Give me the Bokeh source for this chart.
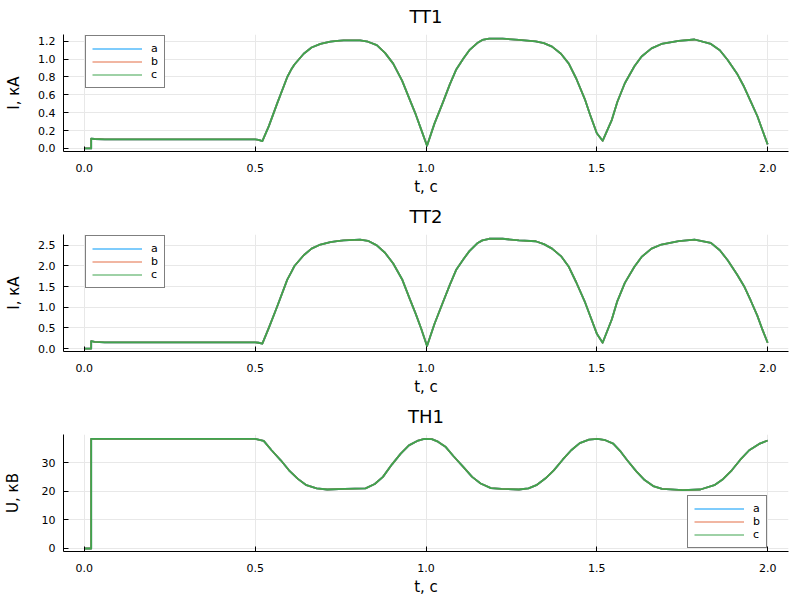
from bokeh.plotting import figure
from bokeh.models import Range1d, FixedTicker, NumeralTickFormatter, Legend, LegendItem
from bokeh.layouts import column
from bokeh.embed import file_html
from bokeh.resources import INLINE

# ---------------- data ----------------
phases = ["a", "b", "c"]
colors = ["#009AFA", "#E36F47", "#3EA44E"]

x_ticks = [0.0, 0.5, 1.0, 1.5, 2.0]
tt1_ticks = [0.0, 0.2, 0.4, 0.6, 0.8, 1.0, 1.2]
tt2_ticks = [0.0, 0.5, 1.0, 1.5, 2.0, 2.5]
th1_ticks = [0, 10, 20, 30]

# time points for current transformers (s)
t_i = [0, 0.02, 0.02, 0.03, 0.06, 0.50, 0.51, 0.521, 0.54, 0.565, 0.594, 0.605,
       0.615, 0.642, 0.665, 0.691, 0.72, 0.74, 0.759, 0.807, 0.83, 0.856, 0.88,
       0.904, 0.93, 0.953, 0.97, 0.986, 1.003, 1.025, 1.049, 1.07, 1.088, 1.11,
       1.127, 1.15, 1.165, 1.185, 1.224, 1.272, 1.321, 1.345, 1.369, 1.395, 1.418,
       1.44, 1.466, 1.48, 1.50, 1.517, 1.544, 1.56, 1.582, 1.61, 1.631, 1.66,
       1.689, 1.74, 1.786, 1.834, 1.86, 1.883, 1.91, 1.931, 1.95, 1.970, 1.985, 2.0]

# TT1 current, kA (phases a, b, c coincide)
tt1_a = [0, 0, 0.11, 0.105, 0.10, 0.10, 0.095, 0.081, 0.25, 0.51, 0.80, 0.88,
         0.94, 1.06, 1.13, 1.17, 1.195, 1.205, 1.21, 1.21, 1.195, 1.156, 1.07,
         0.95, 0.76, 0.54, 0.38, 0.21, 0.03, 0.28, 0.51, 0.72, 0.88, 1.01,
         1.10, 1.18, 1.215, 1.23, 1.23, 1.215, 1.20, 1.18, 1.14, 1.06, 0.95,
         0.78, 0.54, 0.38, 0.17, 0.085, 0.32, 0.52, 0.73, 0.92, 1.03, 1.12,
         1.17, 1.205, 1.22, 1.17, 1.10, 0.99, 0.84, 0.69, 0.53, 0.36, 0.2, 0.045]
tt1_b = list(tt1_a)
tt1_c = list(tt1_a)

# TT2 current, kA
tt2_a = [0, 0, 0.18, 0.16, 0.15, 0.15, 0.14, 0.12, 0.5, 1.03, 1.67, 1.84,
         2.0, 2.26, 2.42, 2.52, 2.58, 2.6, 2.62, 2.64, 2.61, 2.5, 2.32,
         2.06, 1.68, 1.19, 0.84, 0.48, 0.06, 0.6, 1.11, 1.55, 1.9, 2.17,
         2.36, 2.55, 2.62, 2.66, 2.66, 2.62, 2.6, 2.53, 2.42, 2.24, 1.98,
         1.6, 1.11, 0.8, 0.36, 0.14, 0.71, 1.15, 1.59, 1.98, 2.22, 2.42,
         2.52, 2.6, 2.64, 2.56, 2.38, 2.14, 1.8, 1.51, 1.17, 0.79, 0.45, 0.14]
tt2_b = list(tt2_a)
tt2_c = list(tt2_a)

# TH1 voltage, kV
t_u = [0, 0.02, 0.02, 0.5, 0.525, 0.548, 0.575, 0.599, 0.625, 0.65, 0.68, 0.711,
       0.762, 0.823, 0.85, 0.874, 0.90, 0.926, 0.95, 0.977, 0.995, 1.017, 1.035,
       1.058, 1.08, 1.109, 1.135, 1.16, 1.19, 1.221, 1.272, 1.30, 1.323, 1.35,
       1.374, 1.40, 1.425, 1.45, 1.477, 1.502, 1.525, 1.548, 1.57, 1.589, 1.615,
       1.64, 1.665, 1.691, 1.752, 1.803, 1.844, 1.87, 1.895, 1.92, 1.946, 1.975, 2.0]
th1_a = [0, 0, 38.3, 38.3, 37.6, 34.3, 30.8, 27.3, 24.3, 22.1, 21.0, 20.6,
         20.8, 21.0, 22.5, 25.0, 29.3, 33.1, 36.0, 37.7, 38.3, 38.2, 37.3,
         35.4, 32.3, 28.5, 25.0, 22.7, 21.1, 20.8, 20.6, 21.0, 22.1, 24.5,
         27.3, 31.0, 34.3, 36.8, 38.0, 38.3, 37.8, 36.6, 33.8, 30.8, 27.0,
         23.9, 21.8, 20.8, 20.4, 20.6, 22.1, 24.3, 27.3, 31.0, 34.3, 36.5, 37.7]
th1_b = list(th1_a)
th1_c = list(th1_a)

FONT = "DejaVu Sans"
W, H = 800, 200
LB, RB, TB, BB = 58, 12, 32, 49
FW, FH = W - LB - RB, H - TB - BB
LEG_W, LEG_H = 78, 52
NAN = float("nan")


def panel(title, t, series, y_range, y_ticks, y_fmt, y_label, legend_pos, y_label_standoff):
    p = figure(width=W, height=H, output_backend="svg", toolbar_location=None,
               x_range=Range1d(-0.061, 2.061), y_range=Range1d(*y_range),
               min_border_left=LB, min_border_right=RB, min_border_top=TB,
               min_border_bottom=BB, background_fill_color="white",
               border_fill_color="white", outline_line_color=None)
    p.title.text = title
    p.title.text_font = FONT
    p.title.text_font_size = "18px"
    p.title.text_font_style = "normal"
    p.title.align = "center"
    p.title.vertical_align = "top"
    p.title.text_color = "black"
    p.title.standoff = 11

    for ax, ticks, fmt, lab in ((p.xaxis[0], x_ticks, "0.0", "t, c"),
                                (p.yaxis[0], y_ticks, y_fmt, y_label)):
        ax.ticker = FixedTicker(ticks=ticks)
        ax.formatter = NumeralTickFormatter(format=fmt)
        ax.axis_label = lab
        ax.axis_label_text_font = FONT
        ax.axis_label_text_font_size = "15px"
        ax.axis_label_text_font_style = "normal"
        ax.axis_label_text_color = "black"
        ax.major_label_text_font = FONT
        ax.major_label_text_font_size = "11px"
        ax.major_label_text_color = "black"
        ax.major_tick_in = 5
        ax.major_tick_out = 0
        ax.minor_tick_in = 0
        ax.minor_tick_out = 0
        ax.major_label_standoff = 8
        ax.axis_line_color = "black"
        ax.major_tick_line_color = "black"
    p.xaxis[0].major_label_standoff = 12
    p.xaxis[0].axis_label_standoff = 3
    p.yaxis[0].axis_label_standoff = y_label_standoff

    for g in (p.xgrid[0], p.ygrid[0]):
        g.grid_line_color = "#e8e8e8"
        g.grid_line_width = 1
    p.xgrid[0].ticker = FixedTicker(ticks=x_ticks)
    p.ygrid[0].ticker = FixedTicker(ticks=y_ticks)

    items = []
    for name, col, ys in zip(phases, colors, series):
        p.line(t, ys, line_color=col, line_width=1.8, line_join="round")
        # thinner sample line for the legend
        lr = p.line(x=[NAN], y=[NAN], line_color=col, line_width=1.2)
        items.append(LegendItem(label=name, renderers=[lr]))

    leg = Legend(items=items, location=legend_pos, label_text_font=FONT,
                 label_text_font_size="11px", label_text_color="black",
                 glyph_width=50, glyph_height=13, label_height=13, label_width=6,
                 spacing=0, padding=6, margin=0, label_standoff=9,
                 border_line_color="black", border_line_width=1,
                 background_fill_color="white", background_fill_alpha=1)
    p.add_layout(leg, "center")
    return p


p1 = panel("TT1", t_i, [tt1_a, tt1_b, tt1_c], (-0.035, 1.276), tt1_ticks, "0.0",
           "I, кА", (22, FH - 4 - LEG_H), 12)
p2 = panel("TT2", t_i, [tt2_a, tt2_b, tt2_c], (-0.072, 2.763), tt2_ticks, "0.0",
           "I, кА", (22, FH - 4 - LEG_H), 12)
p3 = panel("TH1", t_u, [th1_a, th1_b, th1_c], (-1.05, 39.8), th1_ticks, "0",
           "U, кВ", (FW - 28 - LEG_W, 3), 17)

layout = column(p1, p2, p3, spacing=0)
open("out.html", "w").write(file_html(layout, INLINE))
